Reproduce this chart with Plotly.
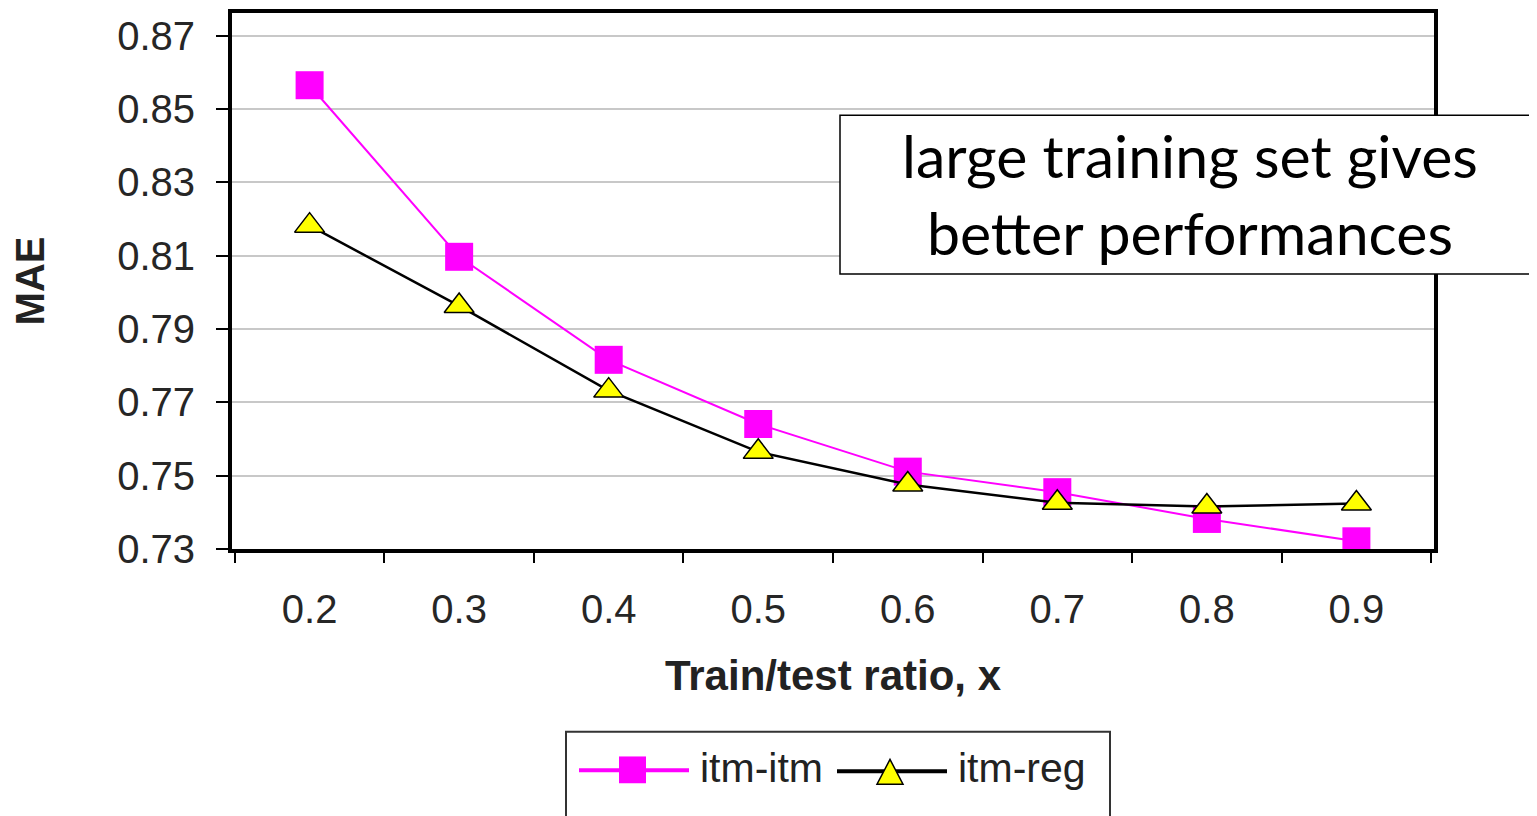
import plotly.graph_objects as go

ratios = ["0.2", "0.3", "0.4", "0.5", "0.6", "0.7", "0.8", "0.9"]
itm_itm = [0.8565, 0.8097, 0.7816, 0.7641, 0.7511, 0.7455, 0.7382, 0.7321]
itm_reg = [0.8182, 0.7963, 0.7732, 0.7565, 0.7476, 0.7426, 0.7416, 0.7424]
y_ticks = [0.73, 0.75, 0.77, 0.79, 0.81, 0.83, 0.85, 0.87]

# page has an 8px body margin, so size the figure to fit in the window
OFF = 8
W, H = 1537 - OFF, 816 - OFF
L, T = 232 - OFF, 9 - OFF
R, B = W - (1434 - OFF), H - (549 - OFF)
pw, ph = W - L - R, H - T - B

def px(x):
    return (x - OFF - L) / pw

def py(y):
    return (H - B - (y - OFF)) / ph

FONT = "Liberation Sans, Arial, sans-serif"

fig = go.Figure()
fig.add_trace(go.Scatter(
    x=ratios, y=itm_itm, name="itm-itm", mode="lines+markers",
    line=dict(color="#ff00ff", width=2),
    marker=dict(symbol="square", size=28, color="#ff00ff"),
))
fig.add_trace(go.Scatter(
    x=ratios, y=itm_reg, name="itm-reg", mode="lines+markers",
    line=dict(color="black", width=2.5),
    marker=dict(symbol="triangle-up", size=26, color="#ffff00",
                line=dict(color="black", width=1.5)),
))

fig.update_layout(
    width=W, height=H,
    margin=dict(l=L, r=R, t=T, b=B),
    paper_bgcolor="white", plot_bgcolor="white",
    showlegend=False,
    font=dict(family=FONT, color="#262626", size=40),
)
fig.update_xaxes(
    type="category", tickson="boundaries",
    ticks="outside", ticklen=10, tickwidth=2, tickcolor="black",
    showline=True, linecolor="black", linewidth=4, mirror=True,
    showgrid=False, ticklabelstandoff=22,
    tickfont=dict(size=40, color="#262626"),
    title=dict(text="<b>Train/test ratio, x</b>", font=dict(size=42, color="#222"), standoff=32),
)
fig.update_yaxes(
    range=[0.73, 0.8762], tickvals=y_ticks, ticktext=[f"{v:.2f}" for v in y_ticks],
    ticks="outside", ticklen=12, tickwidth=2, tickcolor="black",
    showline=True, linecolor="black", linewidth=4, mirror=True,
    showgrid=True, gridcolor="#c8c8c8", gridwidth=2, zeroline=False,
    ticklabelstandoff=13,
    tickfont=dict(size=40, color="#262626"),
    title=dict(text="<b>MAE</b>", font=dict(size=40, color="#222"), standoff=72),
)

# callout box
fig.add_shape(type="rect", xref="paper", yref="paper",
              x0=px(840), x1=px(1560), y0=py(272), y1=py(112),
              line=dict(color="black", width=1.5), fillcolor="white", layer="above")
fig.add_annotation(xref="paper", yref="paper", x=px(1190), y=py(191),
                   text="large training set gives<br>better performances",
                   showarrow=False, font=dict(family="Lato, Carlito, sans-serif", size=59, color="black"),
                   xanchor="center", yanchor="middle")

# legend drawn by hand
fig.add_shape(type="rect", xref="paper", yref="paper",
              x0=px(566), x1=px(1110), y0=py(840), y1=py(733),
              line=dict(color="#333", width=2), fillcolor="white")
fig.add_shape(type="line", xref="paper", yref="paper",
              x0=px(579), x1=px(689), y0=py(772), y1=py(772),
              line=dict(color="#ff00ff", width=4))
fig.add_shape(type="rect", xref="paper", yref="paper",
              x0=px(619), x1=px(646), y0=py(785), y1=py(758),
              line=dict(width=0), fillcolor="#ff00ff")
fig.add_annotation(xref="paper", yref="paper", x=px(698), y=py(770), text="itm-itm",
                   showarrow=False, xanchor="left", yanchor="middle",
                   font=dict(size=41, color="#222"))
fig.add_shape(type="line", xref="paper", yref="paper",
              x0=px(837), x1=px(947), y0=py(773), y1=py(773),
              line=dict(color="black", width=4))
fig.add_shape(type="path", xref="paper", yref="paper",
              path=f"M {px(877)},{py(786)} L {px(903)},{py(786)} L {px(890)},{py(761)} Z",
              line=dict(color="black", width=1.5), fillcolor="#ffff00")
fig.add_annotation(xref="paper", yref="paper", x=px(956), y=py(770), text="itm-reg",
                   showarrow=False, xanchor="left", yanchor="middle",
                   font=dict(size=41, color="#222"))

fig.write_html("out.html")
